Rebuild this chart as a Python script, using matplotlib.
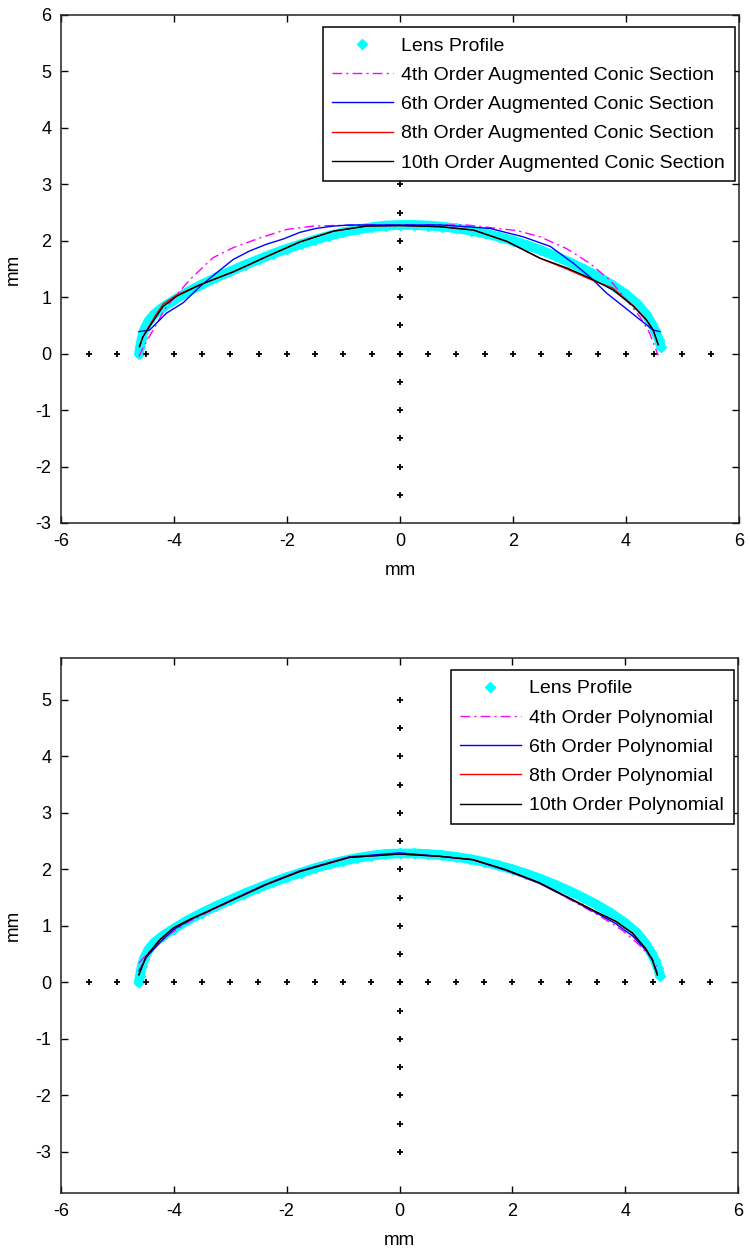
# Lens profile vs. fitted curves (augmented conic sections / polynomials)
import matplotlib.pyplot as plt
from matplotlib.lines import Line2D

plt.rcParams['font.family'] = ['Liberation Sans', 'DejaVu Sans']
plt.rcParams['axes.unicode_minus'] = False

# measured lens profile (cyan band)
lens_x = [-4.62, -4.60, -4.57, -4.53, -4.45, -4.35, -4.20, -4.00, -3.75, -3.50, -3.25, -3.00,
          -2.75, -2.50, -2.25, -2.00, -1.75, -1.50, -1.25, -1.00, -0.75, -0.50, -0.25, 0.00,
          0.25, 0.50, 0.75, 1.00, 1.25, 1.50, 1.75, 2.00, 2.25, 2.50, 2.75, 3.00, 3.25, 3.50,
          3.75, 4.00, 4.20, 4.35, 4.45, 4.52, 4.58, 4.62]
lens_y = [0.00, 0.12, 0.28, 0.42, 0.58, 0.70, 0.82, 0.95, 1.10, 1.23, 1.35, 1.46,
          1.57, 1.67, 1.77, 1.86, 1.94, 2.02, 2.09, 2.15, 2.20, 2.24, 2.27, 2.28,
          2.28, 2.27, 2.25, 2.22, 2.18, 2.13, 2.07, 2.00, 1.92, 1.83, 1.73, 1.62, 1.50, 1.37,
          1.22, 1.05, 0.88, 0.70, 0.54, 0.40, 0.25, 0.12]

# dotted cross through the origin
cross_x = [-5.5, -5.0, -4.5, -4.0, -3.5, -3.0, -2.5, -2.0, -1.5, -1.0, -0.5, 0.0,
           0.5, 1.0, 1.5, 2.0, 2.5, 3.0, 3.5, 4.0, 4.5, 5.0, 5.5]
cross_y_top = [-2.5, -2.0, -1.5, -1.0, -0.5, 0.0, 0.5, 1.0, 1.5, 2.0, 2.5, 3.0]
cross_y_bot = [-3.0, -2.5, -2.0, -1.5, -1.0, -0.5, 0.0, 0.5, 1.0, 1.5, 2.0, 2.5,
               3.0, 3.5, 4.0, 4.5, 5.0]

# augmented conic section fits (top)
acs4_x = [-4.62, -4.55, -4.37, -4.13, -3.72, -3.31, -2.95, -2.48, -2.01, -1.54, -1.18, -0.5,
          0.0, 0.6, 1.18, 2.07, 2.48, 2.95, 3.36, 3.72, 4.01, 4.25, 4.42, 4.57]
acs4_y = [-0.05, 0.10, 0.42, 0.84, 1.31, 1.70, 1.88, 2.05, 2.20, 2.26, 2.27, 2.28,
          2.28, 2.28, 2.28, 2.18, 2.07, 1.86, 1.60, 1.30, 0.95, 0.65, 0.36, -0.03]
acs6_x = [-4.62, -4.43, -4.13, -3.84, -3.54, -3.25, -2.95, -2.66, -2.36, -2.07, -1.77, -1.48,
          -1.18, -0.89, 0.0, 0.71, 1.59, 2.18, 2.66, 3.07, 3.36, 3.66, 3.95, 4.25, 4.48, 4.60]
acs6_y = [0.39, 0.42, 0.72, 0.90, 1.19, 1.43, 1.67, 1.82, 1.94, 2.03, 2.15, 2.22,
          2.26, 2.28, 2.28, 2.28, 2.22, 2.07, 1.90, 1.60, 1.36, 1.07, 0.84, 0.60, 0.42, 0.39]
acs8_x = [-4.61, -4.55, -4.42, -4.30, -4.19, -3.95, -3.54, -2.95, -2.36, -1.77, -1.18, -0.60,
          0.0, 0.70, 1.30, 1.89, 2.48, 2.95, 3.36, 3.77, 4.13, 4.36, 4.48, 4.57]
acs8_y = [0.12, 0.30, 0.52, 0.72, 0.88, 1.04, 1.22, 1.45, 1.72, 1.98, 2.17, 2.26,
          2.27, 2.25, 2.19, 1.99, 1.69, 1.50, 1.32, 1.16, 0.85, 0.60, 0.42, 0.16]
acs10_x = [-4.61, -4.55, -4.42, -4.30, -4.19, -3.95, -3.54, -2.95, -2.36, -1.77, -1.18, -0.60,
           0.0, 0.70, 1.30, 1.89, 2.48, 2.95, 3.36, 3.77, 4.13, 4.36, 4.48, 4.57]
acs10_y = [0.13, 0.30, 0.50, 0.68, 0.84, 1.02, 1.22, 1.45, 1.72, 1.98, 2.17, 2.26,
           2.27, 2.25, 2.19, 1.99, 1.69, 1.52, 1.34, 1.13, 0.84, 0.60, 0.42, 0.16]

# polynomial fits (bottom)
poly4_x = [-4.62, -4.49, -4.25, -4.01, -3.72, -2.95, -2.36, -1.77, -0.89, 0.0, 0.71, 1.30,
           1.89, 2.48, 3.07, 3.54, 3.95, 4.25, 4.45, 4.56]
poly4_y = [0.34, 0.48, 0.72, 0.90, 1.08, 1.46, 1.74, 1.97, 2.21, 2.28, 2.23, 2.17,
           1.99, 1.76, 1.44, 1.18, 0.92, 0.66, 0.45, 0.28]
poly6_x = [-4.62, -4.49, -4.25, -4.01, -3.72, -2.95, -2.36, -1.77, -0.89, 0.0, 0.71, 1.30,
           1.89, 2.48, 3.07, 3.54, 3.83, 4.13, 4.36, 4.48, 4.57]
poly6_y = [0.20, 0.44, 0.70, 0.93, 1.10, 1.47, 1.74, 1.97, 2.22, 2.29, 2.23, 2.17,
           1.98, 1.75, 1.45, 1.20, 1.04, 0.82, 0.58, 0.40, 0.16]
poly8_x = [-4.62, -4.49, -4.25, -4.01, -3.72, -2.95, -2.36, -1.77, -0.89, 0.0, 0.71, 1.30,
           1.89, 2.48, 3.07, 3.54, 3.83, 4.13, 4.36, 4.48, 4.57]
poly8_y = [0.14, 0.46, 0.75, 0.96, 1.11, 1.46, 1.73, 1.96, 2.21, 2.27, 2.23, 2.17,
           1.99, 1.76, 1.46, 1.22, 1.08, 0.87, 0.60, 0.40, 0.13]
poly10_x = [-4.62, -4.49, -4.25, -4.01, -3.72, -2.95, -2.36, -1.77, -0.89, 0.0, 0.71, 1.30,
            1.89, 2.48, 3.07, 3.54, 3.83, 4.13, 4.36, 4.48, 4.57]
poly10_y = [0.13, 0.46, 0.75, 0.96, 1.11, 1.46, 1.73, 1.96, 2.21, 2.27, 2.23, 2.17,
            1.99, 1.76, 1.46, 1.22, 1.08, 0.87, 0.60, 0.40, 0.13]

acs_labels = ['4th Order Augmented Conic Section', '6th Order Augmented Conic Section',
              '8th Order Augmented Conic Section', '10th Order Augmented Conic Section']
poly_labels = ['4th Order Polynomial', '6th Order Polynomial',
               '8th Order Polynomial', '10th Order Polynomial']

fig = plt.figure(figsize=(7.5, 12.52), dpi=100)
ax1 = fig.add_axes([0.08133, 0.58227, 0.904, 0.40575])
ax2 = fig.add_axes([0.08133, 0.04712, 0.9027, 0.42732])

styles = [dict(color='#ff00ff', ls=(0, (7, 3, 1.5, 3))), dict(color='#0000ff', ls='-'),
          dict(color='#ff0000', ls='-'), dict(color='black', ls='-')]


def draw(ax, fits, labels, cross_y, ylim, yticks, leg_top):
    ax.plot(lens_x, lens_y, color='cyan', lw=7, solid_capstyle='round', zorder=2)
    ax.plot(lens_x, lens_y, 'D', color='cyan', ms=5, zorder=2)
    ax.plot(cross_x, [0] * len(cross_x), '+', color='black', ms=5, mew=1.3, zorder=3)
    ax.plot([0] * len(cross_y), cross_y, '+', color='black', ms=5, mew=1.3, zorder=3)
    handles = [Line2D([], [], ls='none', marker='D', color='cyan', ms=5)]
    for (fx, fy), st in zip(fits, styles):
        h, = ax.plot(fx, fy, lw=1.0, zorder=4, **st)
        handles.append(h)
    ax.set_xlim(-6, 6)
    ax.set_ylim(*ylim)
    ax.set_xticks([-6, -4, -2, 0, 2, 4, 6])
    ax.set_yticks(yticks)
    ax.tick_params(direction='in', length=5, width=1, top=True, right=True,
                   labelsize=13, pad=7)
    for s in ax.spines.values():
        s.set_linewidth(1.1)
        s.set_color('#222222')
    ax.set_xlabel('mm', fontsize=13.5, labelpad=9)
    ax.set_ylabel('mm', fontsize=13.5, labelpad=10)
    leg = ax.legend(handles, ['Lens Profile'] + labels, loc='upper right',
                    bbox_to_anchor=(0.994, leg_top), borderaxespad=0, fontsize=14,
                    fancybox=False, edgecolor='black', framealpha=1,
                    labelspacing=0.6, borderpad=0.5, handlelength=3.1,
                    handletextpad=0.46)
    leg.get_frame().set_linewidth(1.1)


draw(ax1, [(acs4_x, acs4_y), (acs6_x, acs6_y), (acs8_x, acs8_y), (acs10_x, acs10_y)],
     acs_labels, cross_y_top, (-3, 6), [-3, -2, -1, 0, 1, 2, 3, 4, 5, 6], 0.976)
draw(ax2, [(poly4_x, poly4_y), (poly6_x, poly6_y), (poly8_x, poly8_y), (poly10_x, poly10_y)],
     poly_labels, cross_y_bot, (-3.73, 5.74), [-3, -2, -1, 0, 1, 2, 3, 4, 5], 0.9776)

fig.savefig('out.png', dpi=100)
